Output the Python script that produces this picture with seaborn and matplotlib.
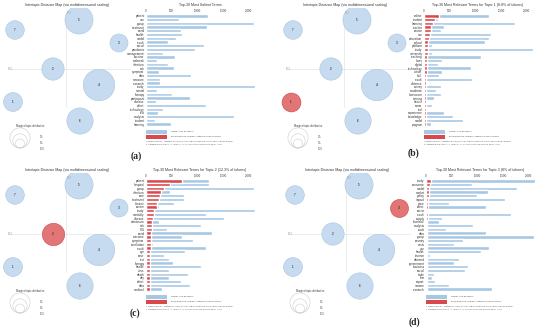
import numpy as np
import pandas as pd
import matplotlib.pyplot as plt
import seaborn as sns
from matplotlib.patches import Rectangle
from matplotlib.ticker import FuncFormatter

# ---- topic map data (shared by all four panels) ----
topic_id = [1, 2, 3, 4, 5, 6, 7]
pc1 = [-0.265, -0.065, 0.265, 0.165, 0.065, 0.07, -0.255]
pc2 = [-0.165, 0.0, 0.13, -0.08, 0.245, -0.26, 0.195]
topic_pct = [8.8, 12.3, 8.0, 24.5, 19.5, 17.0, 8.5]
legend_pct = [2, 5, 10]

# ---- bar data ----
terms_a = ['patient', 'use', 'group', 'treatment', 'covid', 'health', 'model', 'result',
           'social', 'pandemic', 'management', 'vaccine', 'outbreak', 'infection', 'risk',
           'symptom', 'data', 'measure', 'research', 'study', 'mental', 'therapy',
           'participant', 'disease', 'effect', 'technology', 'test', 'analysis', 'student',
           'learning']
total_a = [1199, 641, 2100, 1192, 686, 699, 577, 429, 1122, 949, 321, 558, 218, 429, 551,
           256, 878, 269, 269, 2130, 218, 500, 865, 192, 1173, 340, 231, 1712, 179, 487]

terms_b = ['online', 'student', 'learning', 'teacher', 'course', 'use', 'education', 'school',
           'platform', 'study', 'university', 'teaching', 'class', 'digital', 'technology',
           'virtual', 'skill', 'result', 'distance', 'survey', 'academic', 'classroom',
           'training', 'lecture', 'exam', 'tool', 'experience', 'knowledge', 'model', 'program']
total_b = [1263, 263, 1776, 395, 329, 1303, 1270, 1184, 164, 2130, 151, 1105, 349, 263, 921,
           349, 296, 941, 66, 329, 230, 329, 197, 66, 151, 46, 395, 559, 757, 132]
topic_b = [296, 217, 178, 132, 132, 112, 99, 86, 79, 79, 72, 66, 66, 59, 53, 53, 46, 46, 46,
           46, 39, 39, 39, 39, 33, 33, 33, 33, 33, 33]

terms_c = ['patient', 'hospital', 'group', 'infection', 'care', 'treatment', 'clinical',
           'severe', 'study', 'mortality', 'disease', 'admission', 'risk', 'ICU', 'covid',
           'outcome', 'symptom', 'ventilation', 'result', 'age', 'case', 'test', 'therapy',
           'health', 'virus', 'death', 'day', 'effect', 'data', 'medical']
total_c = [1234, 1234, 2100, 475, 741, 741, 538, 253, 2130, 1158, 1519, 253, 1076, 399, 1285,
           696, 918, 127, 1158, 759, 348, 443, 525, 1076, 443, 823, 443, 677, 854, 316]
topic_c = [709, 475, 348, 297, 272, 253, 222, 209, 158, 146, 127, 114, 108, 108, 95, 95, 95,
           95, 95, 82, 82, 82, 82, 82, 76, 76, 76, 76, 76, 70]

terms_d = ['study', 'economic', 'model', 'market', 'policy', 'impact', 'price', 'effect',
           'sector', 'result', 'supply', 'financial', 'analysis', 'stock', 'data', 'group',
           'country', 'crisis', 'use', 'health', 'tourism', 'demand', 'government', 'business',
           'social', 'trade', 'firm', 'export', 'income', 'research']
total_d = [2130, 903, 1761, 1206, 987, 1529, 452, 1161, 30, 1645, 303, 258, 923, 387, 1161,
           2100, 729, 535, 1226, 1077, 84, 645, 548, 819, 755, 161, 110, 174, 439, 1277]
topic_d = [97, 84, 65, 58, 52, 45, 45, 39, 22, 32, 32, 26, 26, 26, 26, 19, 19, 19, 19, 19, 19,
           13, 13, 13, 13, 13, 13, 13, 13, 13]

panels = [
    ('(a)', None, 'Top-30 Most Salient Terms', terms_a, total_a, None),
    ('(b)', 1, 'Top-30 Most Relevant Terms for Topic 1 (8.8% of tokens)', terms_b, total_b, topic_b),
    ('(c)', 2, 'Top-30 Most Relevant Terms for Topic 2 (12.3% of tokens)', terms_c, total_c, topic_c),
    ('(d)', 3, 'Top-30 Most Relevant Terms for Topic 3 (8% of tokens)', terms_d, total_d, topic_d),
]
offsets = [(0, 0), (278, 0), (0, 165), (280, 165)]
label_pos = [(136, 156), (413, 153), (135, 313), (414, 322)]

BLUE_C = '#c6dbef'
BLUE_E = '#a8c5e0'
RED_C = '#e27676'
RED_E = '#c94545'
BAR_BLUE = '#a6c8e3'
BAR_RED = '#d9484a'
SCALE = 21  # marker area per percent of tokens

sns.set_theme(style='white')
plt.rcParams['font.family'] = ['Liberation Sans', 'DejaVu Sans']

W, H = 550, 332
fig = plt.figure(figsize=(5.5, 3.32), dpi=100)


def px_axes(x0, y0, w, h):
    return fig.add_axes([x0 / W, 1 - (y0 + h) / H, w / W, h / H])


def ftext(x, y, s, **kw):
    fig.text(x / W, 1 - y / H, s, **kw)


def fbox(x, y, w, h, color):
    fig.patches.append(Rectangle((x / W, 1 - (y + h) / H), w / W, h / H,
                                 transform=fig.transFigure, color=color, lw=0))


topics = pd.DataFrame({'topic': topic_id, 'pc1': pc1, 'pc2': pc2, 'pct': topic_pct})
pmax = max(topic_pct)

for (lab, sel, btitle, terms, total, topic), (ox, oy), (lx, ly) in zip(panels, offsets, label_pos):
    # ---------- intertopic distance map ----------
    ax = px_axes(ox + 0, oy + 8, 133, 150)
    ax.set_xlim(-0.33, 0.335)
    ax.set_ylim(-0.445, 0.305)
    ax.axis('off')
    ax.plot([0, 0], [-0.19, 0.28], color='#dddddd', lw=0.4, zorder=0)
    ax.plot([-0.29, 0.32], [0, 0], color='#dddddd', lw=0.4, zorder=0)
    ax.text(-0.29, 0, 'PC1', fontsize=1.8, color='#999999', ha='left', va='center')
    ax.text(0.005, 0.28, 'PC2', fontsize=1.8, color='#999999', ha='left', va='center')

    is_sel = topics['topic'] == sel
    sns.scatterplot(data=topics[~is_sel], x='pc1', y='pc2', size='pct',
                    sizes=(0, SCALE * pmax), size_norm=(0, pmax), color=BLUE_C,
                    edgecolor=BLUE_E, linewidth=0.4, legend=False, ax=ax, zorder=2)
    if is_sel.any():
        sns.scatterplot(data=topics[is_sel], x='pc1', y='pc2', size='pct',
                        sizes=(0, SCALE * pmax), size_norm=(0, pmax), color=RED_C,
                        edgecolor=RED_E, linewidth=0.4, legend=False, ax=ax, zorder=3)
    for _, r in topics.iterrows():
        ax.text(r.pc1, r.pc2, str(int(r.topic)), fontsize=2.2, ha='center', va='center',
                color='black', zorder=4)

    # marginal topic distribution legend
    base = -0.395
    for p, ty in zip(legend_pct, [-0.34, -0.37, -0.40]):
        rad = np.sqrt(SCALE * p) / 72 * 100 / 2 / 200
        ax.scatter([-0.23], [base + rad], s=SCALE * p, facecolors='none',
                   edgecolors='#cccccc', linewidths=0.4)
        ax.text(-0.13, ty, f'{p}%', fontsize=1.8, color='#555555', va='center')
    ax.text(-0.18, -0.285, 'Marginal topic distribution', fontsize=1.8,
            color='#444444', ha='center', va='center')
    ax.set_xlabel('')
    ax.set_ylabel('')

    ftext(ox + 67, oy + 5, 'Intertopic Distance Map (via multidimensional scaling)',
          fontsize=2.5, ha='center', va='center', color='#333333')

    # ---------- term bar chart ----------
    bx = px_axes(ox + 146, oy + 14, 110, 112)
    df = pd.DataFrame({'term': terms, 'total': total})
    sns.barplot(data=df, x='total', y='term', orient='h', color=BAR_BLUE, saturation=1,
                width=0.88, ax=bx)
    if topic is not None:
        df['topic'] = topic
        sns.barplot(data=df, x='topic', y='term', orient='h', color=BAR_RED, saturation=1,
                    width=0.88, ax=bx)
    bx.set_xlim(0, 2140)
    bx.set_xticks([0, 500, 1000, 1500, 2000])
    bx.xaxis.set_major_formatter(FuncFormatter(lambda v, p: f'{int(v):,}'))
    bx.tick_params(axis='x', top=True, labeltop=True, bottom=False, labelbottom=False,
                   length=0, labelsize=2.1, pad=1, colors='#333333')
    bx.tick_params(axis='y', length=0, labelsize=2.2, pad=1, colors='#333333')
    bx.set_xlabel('')
    bx.set_ylabel('')
    sns.despine(ax=bx, left=True, bottom=True, top=True, right=True)

    ftext(ox + 200, oy + 5, btitle, fontsize=2.6, ha='center', va='center', color='#333333')

    # legend and footnotes
    fbox(ox + 146, oy + 130, 21, 3.5, BAR_BLUE)
    fbox(ox + 146, oy + 135, 21, 3.5, BAR_RED)
    ftext(ox + 171, oy + 131.8, 'Overall term frequency', fontsize=1.6, va='center',
          color='#444444')
    ftext(ox + 171, oy + 136.8, 'Estimated term frequency within the selected topic',
          fontsize=1.6, va='center', color='#444444')
    ftext(ox + 146, oy + 141, '1. saliency(term w) = frequency(w) * [sum_t p(t | w) * '
          'log(p(t | w)/p(t))] for topics t; see Chuang et. al (2012)',
          fontsize=1.4, va='center', color='#444444')
    ftext(ox + 146, oy + 144.5, '2. relevance(term w | topic t) = \u03bb * p(w | t) + '
          '(1 - \u03bb) * p(w | t)/p(w); see Sievert & Shirley (2014)',
          fontsize=1.4, va='center', color='#444444')

    # panel label
    ftext(lx, ly, lab, fontsize=7, fontweight='bold', ha='center', va='center',
          family=['Liberation Serif', 'DejaVu Serif'])

fig.savefig('out.png', dpi=100)
